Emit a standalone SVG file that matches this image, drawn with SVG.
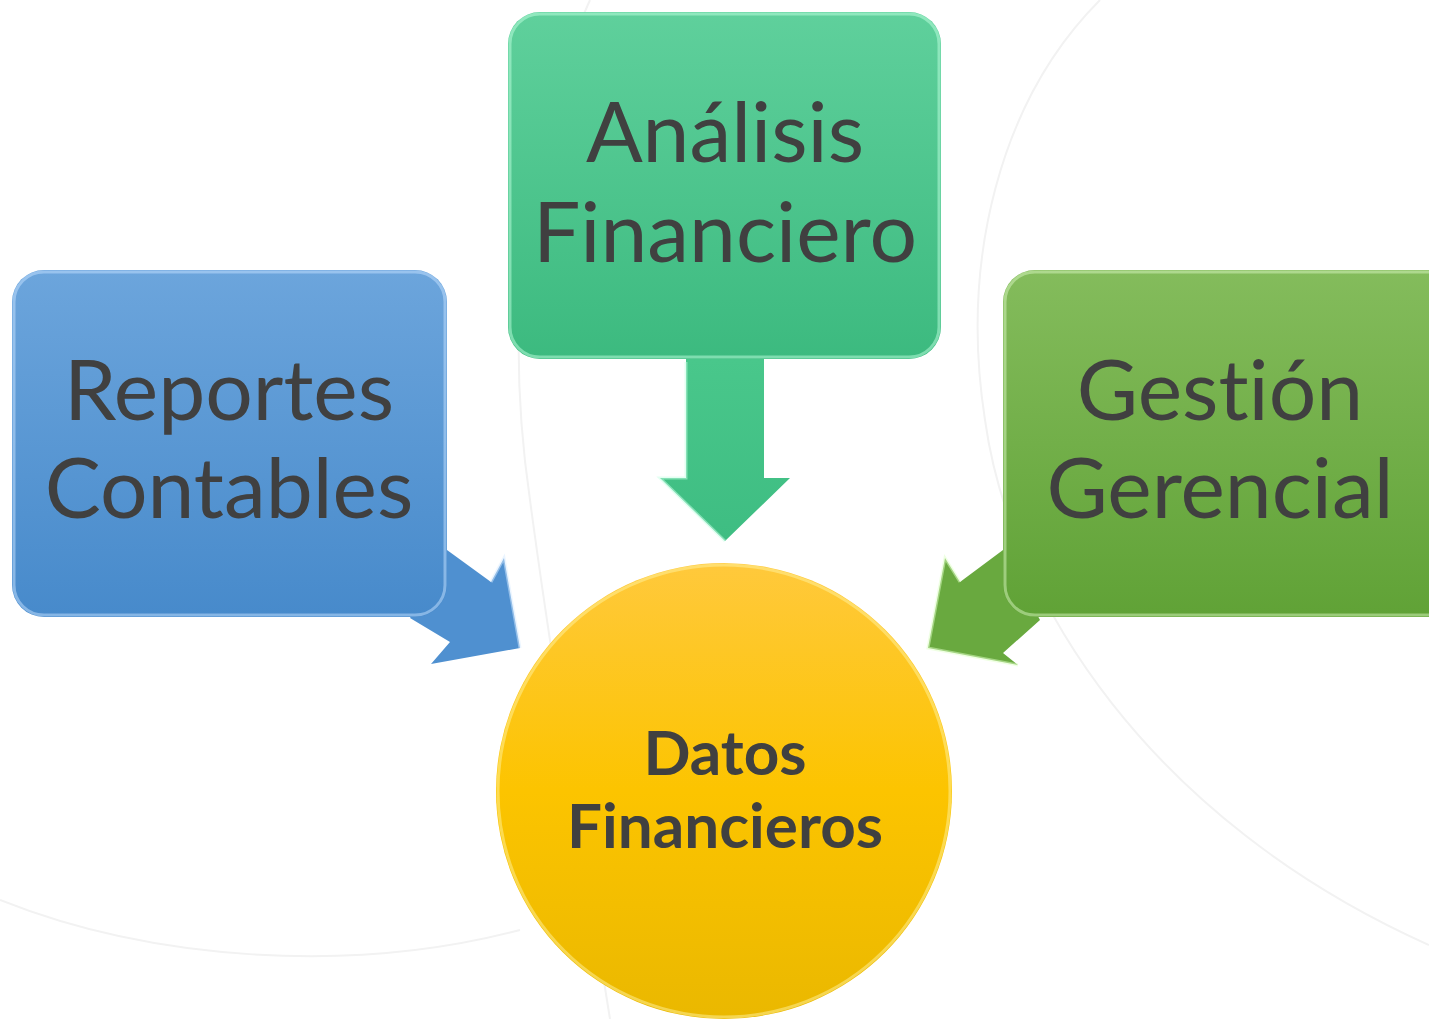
<svg xmlns="http://www.w3.org/2000/svg" width="1429" height="1019" viewBox="0 0 1429 1019">
<defs>
<linearGradient id="gBlue" x1="0" y1="0" x2="0" y2="1"><stop offset="0" stop-color="#6ca5dc"/><stop offset="1" stop-color="#478acb"/></linearGradient>
<linearGradient id="gTeal" x1="0" y1="0" x2="0" y2="1"><stop offset="0" stop-color="#5fd09c"/><stop offset="1" stop-color="#3cba7f"/></linearGradient>
<linearGradient id="gGreen" x1="0" y1="0" x2="0" y2="1"><stop offset="0" stop-color="#84bc5c"/><stop offset="1" stop-color="#60a236"/></linearGradient>
<linearGradient id="gYellow" x1="0" y1="0" x2="0" y2="1"><stop offset="0" stop-color="#ffc93c"/><stop offset="0.5" stop-color="#fcc400"/><stop offset="1" stop-color="#eab800"/></linearGradient>
<linearGradient id="gTealArrow" x1="0" y1="0" x2="0" y2="1"><stop offset="0" stop-color="#49c78b"/><stop offset="1" stop-color="#3ebd82"/></linearGradient>
</defs>
<style>
.bg{fill:none;stroke:#f2f2f2;stroke-width:2}
.lbl{font-family:Lato,"Open Sans","Liberation Sans",sans-serif;font-size:84px;fill:#404040;text-anchor:middle;font-variant-ligatures:none}
.ctr{font-family:Lato,"Open Sans","Liberation Sans",sans-serif;font-size:62px;font-weight:bold;fill:#404040;text-anchor:middle;font-variant-ligatures:none}
.bevel{fill:none;stroke-width:3;stroke-opacity:0.5}
</style>
<g id="background">
<path class="bg" d="M590,0 C520,150 505,330 530,500 C550,650 575,800 610,1019"/>
<path class="bg" d="M0,900 C150,960 350,975 520,930"/>
<path class="bg" d="M1100,0 C1000,100 960,260 985,420 C1010,600 1150,820 1429,945"/>
</g>
<g id="connectors">
<path d="M447,550 L491,582 L504,558 L520,648 L431,664 L450,642 L410,618 Z" fill="#4f90d0"/>
<path d="M491,582 L504,558 L520,648" class="bevel" stroke="#d8ecff"/>
<path d="M686,359 L764,359 L764,478 L790,478 L725,541 L660,478 L686,478 Z" fill="url(#gTealArrow)"/>
<path d="M686,362 L686,478 L660,478 L725,541" class="bevel" stroke="#c8ffe6"/>
<path d="M1003,550 L960,582 L945,558 L928,648 L1018,665 L1003,653 L1040,620 Z" fill="#69a93f"/>
<path d="M960,582 L945,558 L928,648 L1018,665" class="bevel" stroke="#e0ffc8"/>
</g>
<g id="node-reportes">
<rect x="12" y="270" width="435" height="347" rx="32" fill="url(#gBlue)"/>
<rect x="14" y="272" width="431" height="343" rx="30" class="bevel" stroke="#c6e2ff"/>
<text class="lbl" x="229" y="420">Reportes</text>
<text class="lbl" x="229" y="518">Contables</text>
</g>
<g id="node-analisis">
<rect x="508" y="12" width="433" height="347" rx="32" fill="url(#gTeal)"/>
<rect x="510" y="14" width="429" height="343" rx="30" class="bevel" stroke="#c0ffe0"/>
<text class="lbl" x="725" y="162">Análisis</text>
<text class="lbl" x="725" y="262">Financiero</text>
</g>
<g id="node-gestion">
<rect x="1003" y="270" width="460" height="347" rx="32" fill="url(#gGreen)"/>
<rect x="1005" y="272" width="456" height="343" rx="30" class="bevel" stroke="#d8f5bf"/>
<text class="lbl" x="1220" y="420">Gestión</text>
<text class="lbl" x="1220" y="518">Gerencial</text>
</g>
<g id="node-datos">
<circle cx="724" cy="791" r="228" fill="url(#gYellow)"/>
<circle cx="724" cy="791" r="226" class="bevel" stroke="#fff3a0"/>
<text class="ctr" x="725" y="775">Datos</text>
<text class="ctr" x="725" y="848">Financieros</text>
</g>
</svg>
